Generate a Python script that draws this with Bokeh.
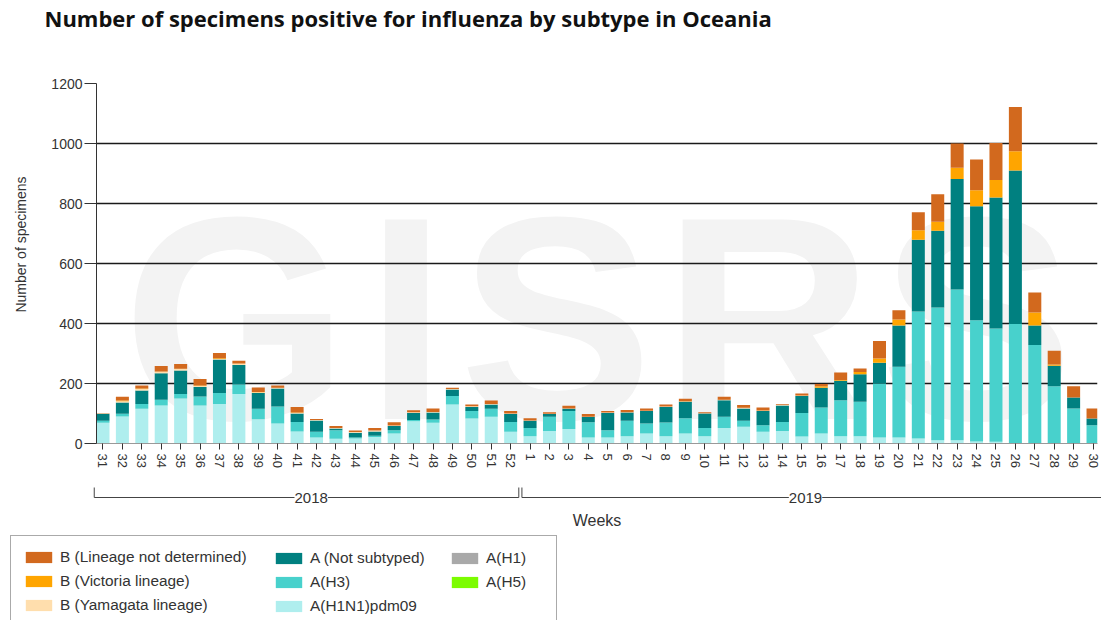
from math import pi
from bokeh.plotting import figure
from bokeh.layouts import column, row
from bokeh.models import (Range1d, FixedTicker, Legend, LegendItem, Label,
                          ColumnDataSource)
from bokeh.embed import file_html
from bokeh.resources import INLINE

# ---------------- data ----------------
weeks = ["31", "32", "33", "34", "35", "36", "37", "38", "39", "40", "41", "42",
         "43", "44", "45", "46", "47", "48", "49", "50", "51", "52",
         "1", "2", "3", "4", "5", "6", "7", "8", "9", "10", "11", "12", "13", "14",
         "15", "16", "17", "18", "19", "20", "21", "22", "23", "24", "25", "26",
         "27", "28", "29", "30"]
years = ["2018", "2019"]
weeks_per_year = [22, 30]

a_h1n1pdm09 = [69, 90, 116, 127, 150, 127, 132, 165, 81, 67, 40, 20,
               16, 17, 22, 33, 74, 69, 130, 83, 89, 39,
               24, 42, 48, 20, 20, 24, 33, 24, 33, 24, 52, 56, 39, 42,
               23, 33, 24, 24, 20, 20, 17, 11, 11, 7, 6, 2,
               0, 2, 0, 0]
a_h3 = [7, 9, 16, 19, 15, 30, 36, 32, 35, 56, 32, 19,
        28, 3, 4, 11, 4, 11, 28, 25, 27, 33,
        28, 47, 60, 51, 24, 52, 34, 46, 51, 28, 37, 20, 22, 30,
        79, 87, 120, 115, 180, 236, 423, 442, 502, 404, 377, 396,
        328, 189, 117, 61]
a_h1 = [0, 0, 0, 0, 0, 0, 0, 0, 0, 0, 0, 0, 0, 0, 0, 0, 0, 0, 0, 0, 0, 0,
        0, 0, 0, 0, 0, 0, 0, 0, 0, 0, 0, 0, 0, 0, 0, 0, 0, 0, 0, 0, 0, 0,
        0, 0, 0, 0, 0, 0, 0, 0]
a_h5 = [0, 0, 0, 0, 0, 0, 0, 0, 0, 0, 0, 0, 0, 0, 0, 0, 0, 0, 0, 0, 0, 0,
        0, 0, 0, 0, 0, 0, 0, 0, 0, 0, 0, 0, 0, 0, 0, 0, 0, 0, 0, 0, 0, 0,
        0, 0, 0, 0, 0, 0, 0, 0]
a_not_subtyped = [23, 38, 45, 88, 78, 31, 112, 65, 52, 60, 28, 38,
                  6, 16, 14, 14, 24, 23, 22, 14, 14, 26,
                  24, 9, 8, 17, 58, 27, 41, 52, 55, 48, 55, 41, 47, 55,
                  56, 66, 65, 92, 69, 137, 239, 256, 369, 380, 437, 512,
                  65, 68, 36, 22]
b_yamagata = [2, 4, 5, 5, 5, 4, 2, 4, 3, 2, 2, 1,
              2, 2, 3, 2, 2, 2, 2, 2, 2, 2,
              1, 1, 1, 1, 1, 1, 1, 1, 1, 1, 1, 1, 1, 1,
              1, 0, 0, 0, 0, 0, 0, 0, 0, 0, 0, 0,
              0, 0, 0, 0]
b_victoria = [0, 2, 1, 1, 1, 1, 2, 1, 1, 1, 1, 0,
              0, 0, 0, 0, 0, 0, 0, 0, 0, 0,
              0, 0, 0, 0, 0, 0, 0, 0, 1, 0, 1, 1, 1, 0,
              1, 5, 3, 7, 14, 20, 32, 30, 37, 53, 58, 64,
              44, 4, 0, 0]
b_not_determined = [1, 13, 10, 18, 16, 22, 18, 9, 15, 7, 19, 4,
                    6, 5, 9, 11, 7, 12, 4, 6, 11, 8,
                    7, 5, 9, 9, 5, 8, 8, 7, 8, 3, 10, 9, 10, 3,
                    7, 7, 25, 12, 59, 31, 60, 92, 81, 103, 124, 148,
                    66, 46, 38, 34]

series_keys = ["pdm09", "h3", "h1", "h5", "ns", "yam", "vic", "nd"]
series_names = ["A(H1N1)pdm09", "A(H3)", "A(H1)", "A(H5)", "A (Not subtyped)",
                "B (Yamagata lineage)", "B (Victoria lineage)", "B (Lineage not determined)"]
series_colors = ["#AFEEEE", "#48D1CC", "#A9A9A9", "#7CFC00", "#008080",
                 "#FFDEAD", "#FFA500", "#D2691E"]
y_ticks = [0, 200, 400, 600, 800, 1000, 1200]

x_idx = list(range(len(weeks)))
src = ColumnDataSource(dict(x=x_idx, pdm09=a_h1n1pdm09, h3=a_h3, h1=a_h1, h5=a_h5,
                            ns=a_not_subtyped, yam=b_yamagata, vic=b_victoria,
                            nd=b_not_determined))

FONT = "Liberation Sans"
W = 1101
TOP_H, MAIN_H, BOT_H = 73, 407, 140
LEFT_W = 40                          # strip holding the y-axis title
FL, FR = 96, 1097                    # main frame left / right (page px)
XS, XE = -0.334, len(weeks) - 0.77   # main x range
K = (XE - XS) / (FR - FL)            # data units per pixel


def bare(width, height, x_range, y_range):
    f = figure(width=width, height=height, output_backend="svg", toolbar_location=None,
               x_range=x_range, y_range=y_range, x_axis_type=None, y_axis_type=None,
               min_border=0, min_border_left=0, min_border_right=0,
               min_border_top=0, min_border_bottom=0, frame_align=False)
    f.outline_line_color = None
    f.grid.visible = False
    return f


# ---------------- title strip ----------------
pt = bare(W, TOP_H, Range1d(0, W), Range1d(TOP_H, 0))
pt.add_layout(Label(x=44, y=17, text="Number of specimens positive for influenza by subtype in Oceania",
                    text_font="Open Sans", text_font_style="bold", text_font_size="22px",
                    text_color="#111111", text_baseline="middle"))

# ---------------- y-axis title strip ----------------
pl = bare(LEFT_W, MAIN_H, Range1d(0, LEFT_W), Range1d(MAIN_H, 0))
pl.add_layout(Label(x=20, y=244 - TOP_H, text="Number of specimens", angle=pi / 2,
                    text_align="center", text_baseline="middle", text_font=FONT,
                    text_font_size="14px", text_color="#333333"))

# ---------------- main chart ----------------
p = figure(width=W - LEFT_W, height=MAIN_H, output_backend="svg", toolbar_location=None,
           x_range=Range1d(XS, XE), y_range=Range1d(0, 1200),
           min_border_left=FL - LEFT_W, min_border_right=W - FR, min_border_top=10,
           min_border_bottom=37, background_fill_color="white",
           border_fill_color="white", frame_align=False)
p.outline_line_color = None

# faint watermark behind everything
for letter, px in zip("GISRS", [235, 405.5, 555.5, 767.5, 976.5]):
    p.add_layout(Label(x=XS + (px - FL) * K, y=418, text=letter,
                       text_align="center", text_baseline="alphabetic",
                       text_font=FONT, text_font_style="bold", text_font_size="290px",
                       text_color="#f3f3f3", level="image"))

renderers = p.vbar_stack(series_keys, x="x", width=0.67, color=series_colors,
                         source=src, line_color=None)

p.yaxis.ticker = FixedTicker(ticks=y_ticks)
p.ygrid.ticker = FixedTicker(ticks=y_ticks[1:])
p.yaxis.major_tick_out = 12
p.yaxis.major_tick_in = 0
p.yaxis.minor_tick_line_color = None
p.yaxis.major_label_standoff = 2
p.yaxis.major_label_text_font = FONT
p.yaxis.major_label_text_font_size = "14px"
p.yaxis.major_label_text_color = "#333333"
p.yaxis.axis_line_color = "#333333"
p.yaxis.major_tick_line_color = "#333333"

p.xaxis.ticker = FixedTicker(ticks=x_idx)
p.xaxis.major_label_overrides = {i: w for i, w in zip(x_idx, weeks)}
p.xaxis.major_label_orientation = "vertical"
p.xaxis.major_label_text_font = FONT
p.xaxis.major_label_text_font_size = "13px"
p.xaxis.major_label_text_color = "#333333"
p.xaxis.major_tick_out = 6
p.xaxis.major_tick_in = 0
p.xaxis.minor_tick_line_color = None
p.xaxis.major_label_standoff = 4
p.xaxis.axis_line_color = "#999999"
p.xaxis.major_tick_line_color = "#333333"

p.xgrid.visible = False
p.ygrid.grid_line_color = "#1a1a1a"
p.ygrid.grid_line_width = 1.4

# ---------------- bottom strip: year brackets, axis title, legend ----------------
BXS = XS - FL * K
pb = bare(W, BOT_H, Range1d(BXS, BXS + W * K), Range1d(BOT_H, 0))
n18 = weeks_per_year[0]
split = n18 - 0.5
y_line, y_top = 17, 7
x_left = -0.45
x_right = BXS + W * K + 1
pb.segment(x0=[x_left, x_left, split - 0.08, split + 0.08, split + 0.08],
           y0=[y_line, y_top, y_top, y_top, y_line],
           x1=[split - 0.08, x_left, split - 0.08, split + 0.08, x_right],
           y1=[y_line, y_line, y_line, y_line, y_line],
           line_color="#444444", line_width=1)
for yr, xc in zip(years, [(x_left + split) / 2 + 0.2, (split + 0.08 + 50.8) / 2]):
    pb.add_layout(Label(x=xc, y=y_line, text=yr, text_align="center", text_baseline="middle",
                        text_font=FONT, text_font_size="15px", text_color="#333333",
                        background_fill_color="white"))
pb.add_layout(Label(x=(XS + XE) / 2, y=40, text="Weeks", text_align="center",
                    text_baseline="middle", text_font=FONT, text_font_size="16px",
                    text_color="#333333"))

# legend swatches (zero-height renderers carrying the series colours)
swatch = {}
for k, c in zip(series_keys, series_colors):
    swatch[k] = pb.vbar(x=[0], top=[0], width=0.5, fill_color=c, line_color=None)


def items(keys):
    return [LegendItem(label=series_names[series_keys.index(k)], renderers=[swatch[k]])
            for k in keys]


common = dict(glyph_width=33, glyph_height=14, label_text_font=FONT,
              label_text_font_size="15.4px", label_text_color="#333333",
              label_standoff=5, spacing=4, padding=11, margin=0, label_height=20)
leg1 = Legend(items=items(["nd", "vic", "yam"]), location=(10, -7),
              label_width=485, border_line_color="#555555", border_line_width=1,
              background_fill_color="white", background_fill_alpha=1, **common)
leg2 = Legend(items=items(["ns", "h3", "pdm09"]), location=(272, 4),
              border_line_color=None, background_fill_alpha=0, **common)
leg3 = Legend(items=items(["h1", "h5"]), location=(448, 28),
              border_line_color=None, background_fill_alpha=0, **common)
for lg in (leg1, leg2, leg3):
    pb.add_layout(lg, "center")

layout = column(pt, row(pl, p, spacing=0), pb, spacing=0)
open("out.html", "w").write(file_html(layout, INLINE))
